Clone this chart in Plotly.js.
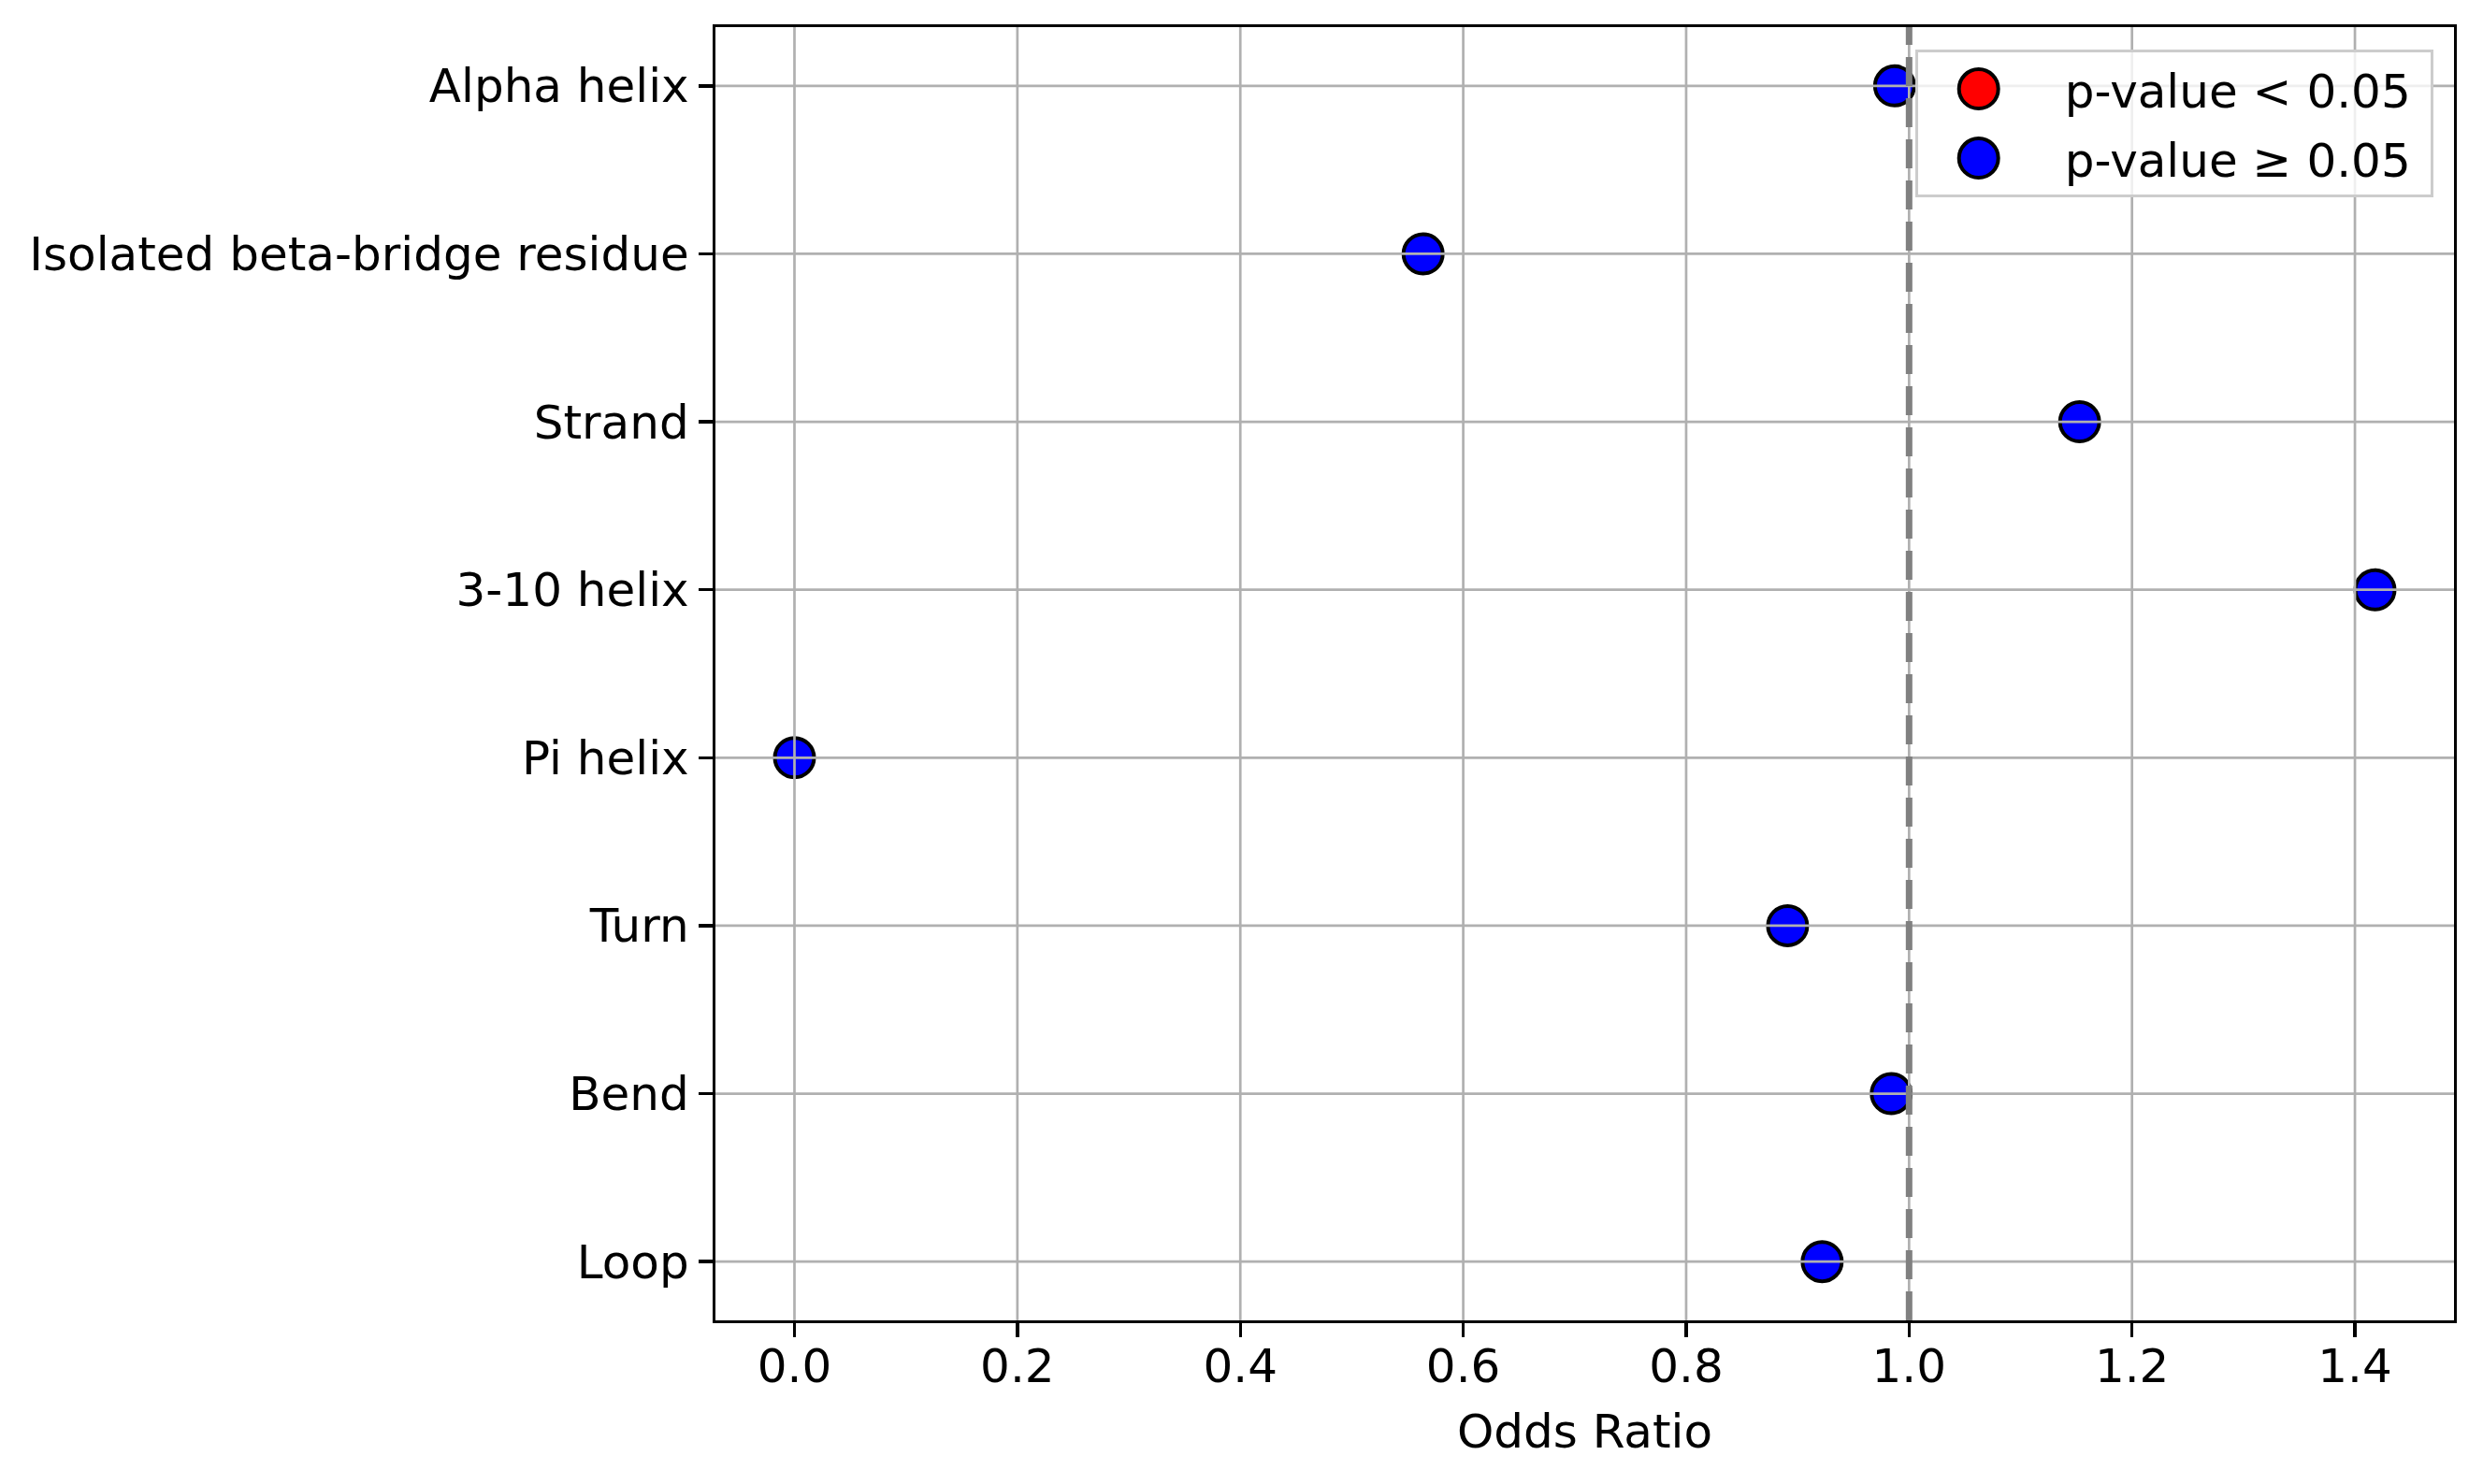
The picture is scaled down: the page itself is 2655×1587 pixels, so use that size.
<!DOCTYPE html>
<html>
<head>
<meta charset="utf-8">
<script src="https://cdn.plot.ly/plotly-3.0.1.min.js"></script>
<style>
  body {margin:0; padding:0; background:white;}
  #chart {width:2655px; height:1587px;}
</style>
</head>
<body>
<div id="chart"></div>
<script>

// Data
// ----

var structures = ['Alpha helix', 'Isolated beta-bridge residue', 'Strand', '3-10 helix',
                  'Pi helix', 'Turn', 'Bend', 'Loop']
var oddsRatios = [0.987, 0.564, 1.153, 1.418, 0.0, 0.891, 0.984, 0.922]
var significant = [false, false, false, false, false, false, false, false]

var xTicks = [0.0, 0.2, 0.4, 0.6, 0.8, 1.0, 1.2, 1.4]
var refLine = 1.0

var legendNames = ['p-value < 0.05', 'p-value \u2265 0.05']
var legendColors = ['red', 'blue']


// Split by significance
// ---------------------

var sig = {x: [], y: []}
var nonSig = {x: [], y: []}
for (var i=0;i<structures.length;i++) {
    if (significant[i]) {sig.x.push(oddsRatios[i]); sig.y.push(structures[i])}
    else {nonSig.x.push(oddsRatios[i]); nonSig.y.push(structures[i])}
}

var FONT = 'DejaVu Sans, Verdana, sans-serif'
var MARKER_SIZE = 42
var MARKER_LINE = 4

function makeTrace(part, k) {
    return {
        type: 'scatter',
        mode: 'markers',
        x: part.x.length ? part.x : [null],
        y: part.y.length ? part.y : [null],
        // trailing nbsp gives the legend box some right padding
        name: legendNames[k] + '\u00a0',
        legendgroup: 'g' + k,
        marker: {size: MARKER_SIZE, color: legendColors[k], line: {color: 'black', width: MARKER_LINE}},
        hoverinfo: 'x+y',
    }
}

var data = [makeTrace(sig, 0), makeTrace(nonSig, 1)]


// Grid drawn above the points (like the original), then the dashed reference line
var shapes = []
for (var t of xTicks) {
    shapes.push({type: 'line', layer: 'above', xref: 'x', yref: 'paper', x0: t, x1: t, y0: 0, y1: 1,
        line: {color: '#b0b0b0', width: 2.7}})
}
for (var j=0;j<structures.length;j++) {
    shapes.push({type: 'line', layer: 'above', xref: 'paper', yref: 'y', x0: 0, x1: 1, y0: j, y1: j,
        line: {color: '#b0b0b0', width: 2.7}})
}
shapes.push({type: 'line', layer: 'above', xref: 'x', yref: 'paper', x0: refLine, x1: refLine, y0: 0, y1: 1,
    line: {color: 'gray', width: 7, dash: '31px,13px'}})


// xmin / xmax with matplotlib-like 5% margins
var xmin = Math.min.apply(null, oddsRatios)
var xmax = Math.max.apply(null, oddsRatios)
var pad = (xmax - xmin) * 0.05
var n = structures.length

var layout = {
    width: 2655,
    height: 1587,
    showlegend: true,
    paper_bgcolor: 'white',
    plot_bgcolor: 'white',
    font: {family: FONT, size: 50, color: 'black'},
    margin: {l: 765, r: 31, t: 29, b: 175, autoexpand: false},
    xaxis: {
        range: [xmin - pad, xmax + pad],
        tickvals: xTicks,
        tickformat: '.1f',
        showgrid: false,
        zeroline: false,
        showline: true,
        mirror: true,
        linecolor: 'black',
        linewidth: 3.3,
        ticks: 'outside',
        ticklen: 15,
        tickwidth: 3.3,
        tickcolor: 'black',
        ticklabelstandoff: -12,
        tickfont: {family: FONT, size: 50, color: 'black'},
        title: {text: 'Odds Ratio', font: {family: FONT, size: 50, color: 'black'}, standoff: 24},
    },
    yaxis: {
        type: 'category',
        categoryorder: 'array',
        categoryarray: structures,
        range: [n - 1 + 0.35, -0.35],
        showgrid: false,
        zeroline: false,
        showline: true,
        mirror: true,
        linecolor: 'black',
        linewidth: 3.3,
        ticks: 'outside',
        ticklen: 15,
        tickwidth: 3.3,
        tickcolor: 'black',
        ticklabelstandoff: 0,
        tickfont: {family: FONT, size: 50, color: 'black'},
    },
    legend: {
        x: 0.988,
        xanchor: 'right',
        y: 0.9826,
        yanchor: 'top',
        bgcolor: 'rgba(255,255,255,0.8)',
        bordercolor: '#cccccc',
        borderwidth: 3,
        font: {family: FONT, size: 50, color: 'black'},
        itemsizing: 'trace',
        itemwidth: 147,
        traceorder: 'grouped',
        tracegroupgap: 6,
    },
    shapes: shapes,
}

Plotly.newPlot('chart', data, layout, {displayModeBar: false, staticPlot: true}).then(function () {
    // legend markers are capped at 16px by plotly, scale them up and move them in
    var k = MARKER_SIZE / 16
    document.querySelectorAll('.legend .legendpoints path.scatterpts').forEach(function (p) {
        p.setAttribute('transform', 'translate(65,0) scale(' + k + ')')
        p.style.strokeWidth = (MARKER_LINE / k) + 'px'
    })
})

</script>
</body>
</html>
